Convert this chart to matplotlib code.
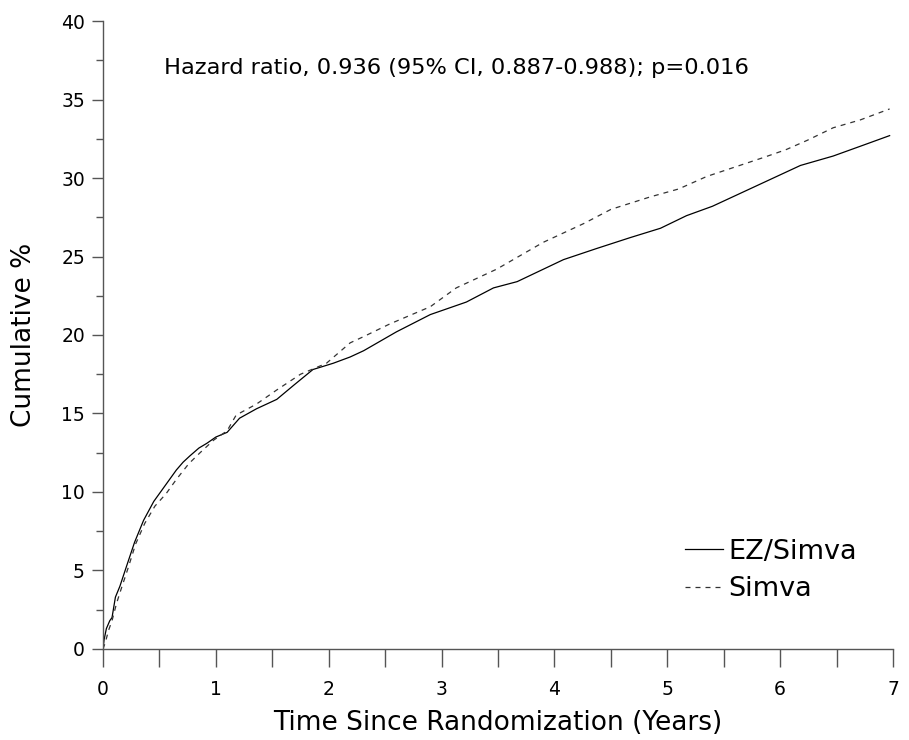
import matplotlib.pyplot as plt
from matplotlib.ticker import MultipleLocator

# Kaplan-Meier style cumulative incidence
ez_years = [0, 0.01, 0.03, 0.06, 0.08, 0.11, 0.15, 0.21, 0.28, 0.36, 0.45, 0.53, 0.59, 0.65,
            0.71, 0.77, 0.85, 0.92, 1.0, 1.1, 1.21, 1.36, 1.54, 1.69, 1.86, 2.04, 2.19, 2.31,
            2.6, 2.9, 3.22, 3.46, 3.67, 4.08, 4.37, 4.67, 4.94, 5.17, 5.4, 5.64, 5.97, 6.18,
            6.47, 6.74, 6.97]
ez_pct = [0, 0.6, 1.3, 1.8, 2.0, 3.3, 4.0, 5.3, 6.8, 8.2, 9.4, 10.2, 10.8, 11.4,
          11.9, 12.3, 12.8, 13.1, 13.5, 13.8, 14.7, 15.3, 15.9, 16.8, 17.8, 18.2, 18.6, 19.0,
          20.2, 21.3, 22.1, 23.0, 23.4, 24.8, 25.5, 26.2, 26.8, 27.6, 28.2, 29.0, 30.1, 30.8,
          31.4, 32.1, 32.7]

simva_years = [0, 0.02, 0.05, 0.08, 0.12, 0.16, 0.22, 0.29, 0.37, 0.46, 0.56, 0.65, 0.76,
               0.86, 0.98, 1.1, 1.18, 1.36, 1.54, 1.75, 1.98, 2.19, 2.31, 2.54, 2.9, 3.13,
               3.49, 3.9, 4.26, 4.5, 4.85, 5.1, 5.35, 5.6, 5.85, 6.05, 6.24, 6.47, 6.71, 6.97]
simva_pct = [0, 0.4, 1.2, 1.8, 2.9, 3.8, 5.1, 6.7, 8.0, 9.1, 9.9, 10.8, 11.8,
             12.5, 13.3, 13.9, 14.9, 15.6, 16.5, 17.5, 18.2, 19.5, 19.9, 20.7, 21.8, 23.0,
             24.2, 25.9, 27.1, 28.0, 28.8, 29.3, 30.1, 30.7, 31.3, 31.8, 32.4, 33.2, 33.7, 34.4]

fig = plt.figure(figsize=(9.09, 7.4), dpi=100)
ax = fig.add_axes([0.1133, 0.123, 0.8691, 0.8486])

ax.plot(ez_years, ez_pct, color='black', lw=0.9, label='EZ/Simva')
ax.plot(simva_years, simva_pct, color='#333333', lw=0.9, linestyle=(0, (4, 4)), label='Simva')

ax.set_xlim(0, 7)
ax.set_ylim(0, 40)
ax.xaxis.set_major_locator(MultipleLocator(1))
ax.xaxis.set_minor_locator(MultipleLocator(0.5))
ax.yaxis.set_major_locator(MultipleLocator(5))
ax.yaxis.set_minor_locator(MultipleLocator(2.5))

for s in ['top', 'right']:
    ax.spines[s].set_visible(False)
for s in ['left', 'bottom']:
    ax.spines[s].set_color('#555555')
    ax.spines[s].set_linewidth(1.0)

ax.tick_params(axis='x', which='both', length=13, width=1, color='#555555',
               labelsize=13.5, pad=9)
ax.tick_params(axis='y', which='major', length=8, width=1, color='#555555',
               labelsize=13.5, pad=5)
ax.tick_params(axis='y', which='minor', length=5, width=1, color='#555555')

ax.set_xlabel('Time Since Randomization (Years)', fontsize=19, labelpad=8)
ax.set_ylabel('Cumulative %', fontsize=19, labelpad=17)

ax.text(0.0766, 0.925, 'Hazard ratio, 0.936 (95% CI, 0.887-0.988); p=0.016',
        transform=ax.transAxes, fontsize=16.2, va='center', ha='left')

fig.legend(loc='upper left', bbox_to_anchor=(0.7536, 0.272), frameon=False, fontsize=19.5,
           handlelength=1.4, handletextpad=0.2, labelspacing=0.42,
           borderpad=0, borderaxespad=0)

fig.savefig('out.png', dpi=100)
